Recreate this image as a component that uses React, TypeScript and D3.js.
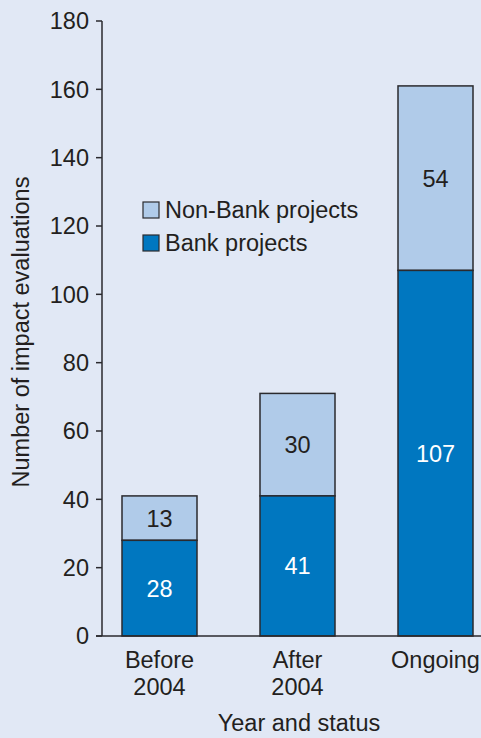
import React from "react";
import * as d3 from "d3";

const categories = [["Before", "2004"], ["After", "2004"], ["Ongoing"]];
const bankValues = [28, 41, 107];
const nonBankValues = [13, 30, 54];
const yTicks = [0, 20, 40, 60, 80, 100, 120, 140, 160, 180];
const seriesNames = ["Non-Bank projects", "Bank projects"];

const W = 481;
const H = 738;
const BG = "#e1e8f5";
const BANK = "#0077c0";
const NONBANK = "#b0cbe9";
const STROKE = "#2a2a2e";
const TEXT = "#231f20";
const FONT = "'Liberation Sans', Arial, Helvetica, sans-serif";
const FS = 23.5;

export default function App() {
  const keys = categories.map((c) => c.join(" "));
  const x = d3.scalePoint<string>().domain(keys).range([159.5, 435.5]);
  const y = d3.scaleLinear().domain([0, 180]).range([636, 21]);
  const barW = 75;
  const axisX = 102;

  return (
    <svg
      width={W}
      height={H}
      style={{ position: "absolute", left: 0, top: 0, background: BG }}
      fontFamily={FONT}
    >
      <rect x={0} y={0} width={W} height={H} fill={BG} />
      {keys.map((k, i) => {
        const cx = x(k)!;
        const b = bankValues[i];
        const nb = nonBankValues[i];
        return (
          <g key={k}>
            <rect
              x={cx - barW / 2}
              y={y(b + nb)}
              width={barW}
              height={y(b) - y(b + nb)}
              fill={NONBANK}
              stroke={STROKE}
              strokeWidth={1.5}
            />
            <rect
              x={cx - barW / 2}
              y={y(b)}
              width={barW}
              height={y(0) - y(b)}
              fill={BANK}
              stroke={STROKE}
              strokeWidth={1.5}
            />
            <text
              x={cx}
              y={(y(b) + y(b + nb)) / 2}
              dy="0.36em"
              textAnchor="middle"
              fontSize={FS}
              fill={TEXT}
            >
              {nb}
            </text>
            <text
              x={cx}
              y={(y(0) + y(b)) / 2}
              dy="0.36em"
              textAnchor="middle"
              fontSize={FS}
              fill="#ffffff"
            >
              {b}
            </text>
          </g>
        );
      })}
      <line x1={axisX} x2={axisX} y1={y(180)} y2={y(0)} stroke={STROKE} strokeWidth={1.5} />
      {yTicks.map((t) => (
        <g key={t}>
          <line x1={axisX - 6} x2={axisX} y1={y(t)} y2={y(t)} stroke={STROKE} strokeWidth={1.5} />
          <text x={89} y={y(t)} dy="0.36em" textAnchor="end" fontSize={FS} fill={TEXT}>
            {t}
          </text>
        </g>
      ))}
      <line x1={axisX - 6} x2={W} y1={y(0)} y2={y(0)} stroke={STROKE} strokeWidth={1.5} />
      {categories.map((lines, i) => (
        <text key={i} x={x(keys[i])!} y={668} textAnchor="middle" fontSize={FS} fill={TEXT}>
          {lines.map((l, j) => (
            <tspan key={j} x={x(keys[i])!} y={668 + j * 27}>
              {l}
            </tspan>
          ))}
        </text>
      ))}
      <text x={299} y={731} textAnchor="middle" fontSize={FS} fill={TEXT}>
        Year and status
      </text>
      <text
        transform={`translate(29, 332) rotate(-90)`}
        textAnchor="middle"
        fontSize={FS}
        fill={TEXT}
      >
        Number of impact evaluations
      </text>
      {seriesNames.map((n, i) => (
        <g key={n} transform={`translate(143, ${202 + i * 33})`}>
          <rect
            x={0}
            y={0}
            width={16}
            height={16}
            fill={i === 0 ? NONBANK : BANK}
            stroke={STROKE}
            strokeWidth={1.2}
          />
          <text x={22} y={16} fontSize={FS} fill={TEXT}>
            {n}
          </text>
        </g>
      ))}
    </svg>
  );
}
